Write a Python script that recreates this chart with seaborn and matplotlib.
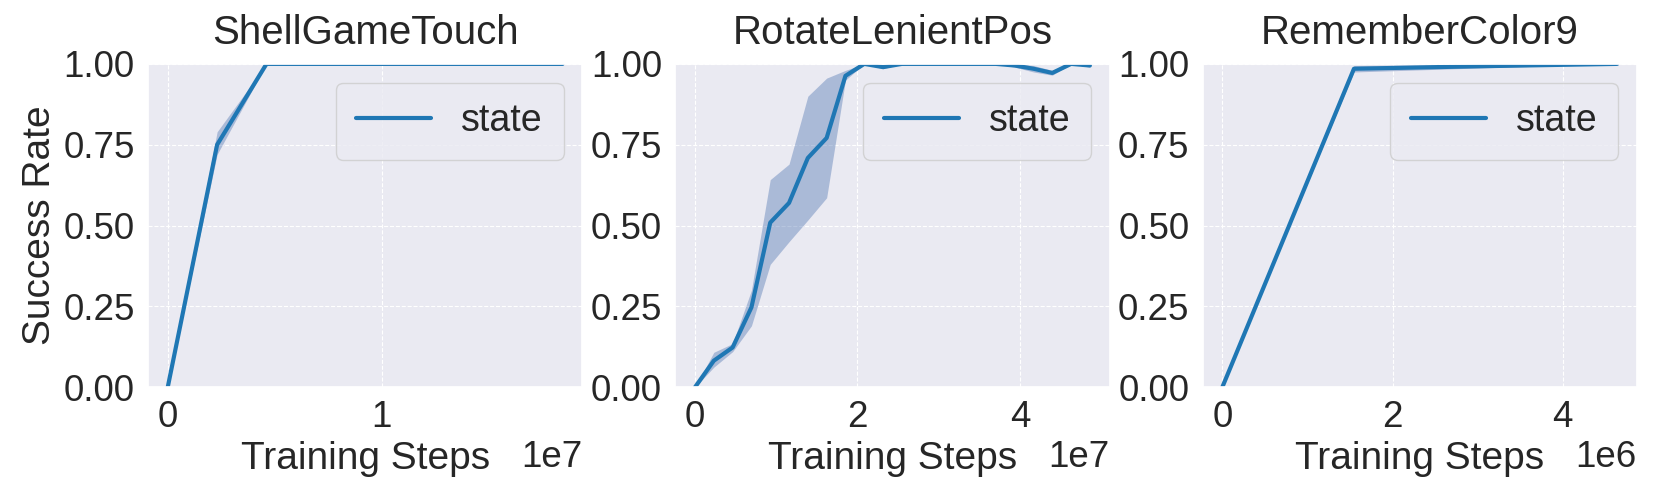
import numpy as np
import matplotlib
matplotlib.use("Agg")
import matplotlib.pyplot as plt
import seaborn as sns

# ---- data ----
titles = ["ShellGameTouch", "RotateLenientPos", "RememberColor9"]

# ShellGameTouch
steps_shell = [0.0, 0.231e7, 0.462e7, 0.693e7, 0.924e7, 1.155e7, 1.386e7, 1.617e7, 1.847e7]
mean_shell = [0.0, 0.75, 1.0, 1.0, 1.0, 1.0, 1.0, 1.0, 1.0]
low_shell = [0.0, 0.72, 1.0, 1.0, 1.0, 1.0, 1.0, 1.0, 1.0]
high_shell = [0.0, 0.79, 1.0, 1.0, 1.0, 1.0, 1.0, 1.0, 1.0]

# RotateLenientPos
steps_rotate = [0.0, 0.2315e7, 0.463e7, 0.6945e7, 0.926e7, 1.1575e7, 1.389e7, 1.6205e7,
                1.852e7, 2.0835e7, 2.315e7, 2.5465e7, 2.778e7, 3.0095e7, 3.241e7,
                3.4725e7, 3.704e7, 3.9355e7, 4.167e7, 4.3985e7, 4.63e7, 4.8615e7]
mean_rotate = [0.0, 0.082, 0.123, 0.247, 0.509, 0.570, 0.709, 0.771, 0.963, 1.0, 0.99,
               1.0, 1.0, 1.0, 1.0, 1.0, 1.0, 0.995, 0.985, 0.972, 1.0, 0.995]
low_rotate = [0.0, 0.062, 0.11, 0.19, 0.38, 0.45, 0.517, 0.586, 0.95, 1.0, 0.985,
              1.0, 1.0, 1.0, 1.0, 1.0, 1.0, 0.99, 0.975, 0.965, 1.0, 0.99]
high_rotate = [0.0, 0.108, 0.135, 0.30, 0.642, 0.69, 0.90, 0.956, 0.98, 1.0, 0.995,
               1.0, 1.0, 1.0, 1.0, 1.0, 1.0, 1.0, 0.995, 0.98, 1.0, 1.0]

# RememberColor9
steps_remember = [0.0, 1.547e6, 3.093e6, 4.64e6]
mean_remember = [0.0, 0.985, 0.993, 1.0]
low_remember = [0.0, 0.975, 0.988, 1.0]
high_remember = [0.0, 0.995, 0.998, 1.0]

panels = [
    (steps_shell, mean_shell, low_shell, high_shell),
    (steps_rotate, mean_rotate, low_rotate, high_rotate),
    (steps_remember, mean_remember, low_remember, high_remember),
]

sns.set_theme(style="darkgrid", rc={"grid.linestyle": "--", "grid.linewidth": 0.8})
plt.rcParams["font.family"] = ["Liberation Sans", "DejaVu Sans"]

fig, axes = plt.subplots(1, 3, figsize=(16.61, 4.84), dpi=100)
fig.subplots_adjust(left=0.0891, right=0.9855, top=0.868, bottom=0.20, wspace=0.214)

for ax, title, (x, y, lo, hi) in zip(axes, titles, panels):
    ax.fill_between(x, lo, hi, color="#4c72b0", alpha=0.4, linewidth=0)
    sns.lineplot(x=x, y=y, ax=ax, color="#1f77b4", linewidth=3, label="state")
    ax.set_ylim(0, 1)
    ax.set_yticks([0, 0.25, 0.5, 0.75, 1.0])
    ax.yaxis.set_major_formatter(matplotlib.ticker.FormatStrFormatter("%.2f"))
    ax.set_title(title, fontsize=29, pad=14)
    ax.set_xlabel("Training Steps", fontsize=28)
    ax.set_ylabel("")
    ax.tick_params(labelsize=26.5)
    ax.xaxis.get_offset_text().set_fontsize(26.5)
    ax.legend(loc="upper right", fontsize=27, borderpad=0.55)

axes[0].set_ylabel("Success Rate", fontsize=28)

plt.savefig("out.png")
plt.close()
